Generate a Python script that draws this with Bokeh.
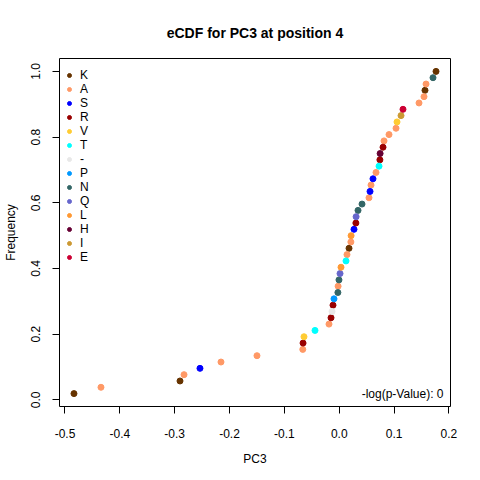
import numpy as np
from bokeh.plotting import figure
from bokeh.models import FixedTicker, PrintfTickFormatter, Label, Range1d
from bokeh.embed import file_html
from bokeh.resources import INLINE

# PC3 values (sorted) and amino-acid labels
pc3 = [-0.4836, -0.4344, -0.2903, -0.2830, -0.2539, -0.2156, -0.1500, -0.0665,
       -0.0660, -0.0643, -0.0442, -0.0187, -0.0150, -0.0132, -0.0114, -0.0096,
       -0.0025, -0.0021, -0.0005, 0.0014, 0.0032, 0.0123, 0.0141, 0.0178,
       0.0212, 0.0216, 0.0269, 0.0303, 0.0307, 0.0342, 0.0415, 0.0542,
       0.0561, 0.0579, 0.0615, 0.0670, 0.0725, 0.0741, 0.0745, 0.0798,
       0.0816, 0.0907, 0.1035, 0.1053, 0.1126, 0.1162, 0.1454, 0.1545,
       0.1563, 0.1582, 0.1709, 0.1764]
aa = ["K", "A", "K", "A", "S", "A", "A", "A", "R", "V", "T", "A", "R", "-", "R", "P",
      "N", "A", "N", "Q", "L", "T", "A", "K", "A", "L", "S", "R", "Q", "N", "N", "A",
      "S", "A", "S", "A", "T", "R", "H", "R", "A", "A", "A", "V", "I", "E", "A", "A",
      "K", "A", "N", "K"]

legend_order = ["K", "A", "S", "R", "V", "T", "-", "P", "N", "Q", "L", "H", "I", "E"]
legend_colors = ["#663300", "#FF9966", "#0000FF", "#990000", "#FFCC33", "#00FFFF",
                 "#E8E8E8", "#0099FF", "#336666", "#6666CC", "#FF9933", "#660033",
                 "#CC9933", "#CC0033"]

x_ticks = [-0.5, -0.4, -0.3, -0.2, -0.1, 0.0, 0.1, 0.2]
y_ticks = [0.0, 0.2, 0.4, 0.6, 0.8, 1.0]

title_text = "eCDF for PC3 at position 4"
pval_text = "-log(p-Value): 0"

x = np.array(pc3)
n = len(x)
freq = np.arange(1, n + 1) / n  # empirical CDF
labels = np.array(aa)

xpad = 0.04 * (x.max() - x.min())
ypad = 0.04 * (freq.max() - freq.min())
x_lo, x_hi = x.min() - xpad, x.max() + xpad

FONT = "Liberation Sans"
W, H = 480, 480
BL, BR, BT, BB = 59, 30, 58, 74
frame_h = H - BT - BB

p = figure(width=W, height=H, output_backend="svg", toolbar_location=None,
           x_range=Range1d(x_lo, x_hi),
           y_range=Range1d(freq.min() - ypad, freq.max() + ypad),
           min_border_left=BL, min_border_right=BR, min_border_top=BT,
           min_border_bottom=BB, title=title_text)

p.title.align = "center"
p.title.text_font = FONT
p.title.text_font_size = "14px"
p.title.text_font_style = "bold"
p.title.text_color = "black"
p.title.standoff = 36

p.grid.visible = False
p.outline_line_color = "black"
p.outline_line_width = 1
p.background_fill_color = "white"

for ax in (p.xaxis[0], p.yaxis[0]):
    ax.axis_line_color = None
    ax.major_tick_out = 7
    ax.major_tick_in = 0
    ax.minor_tick_line_color = None
    ax.major_tick_line_color = "black"
    ax.major_label_text_font = FONT
    ax.major_label_text_font_size = "12px"
    ax.major_label_text_color = "black"
    ax.axis_label_text_font = FONT
    ax.axis_label_text_font_size = "12px"
    ax.axis_label_text_font_style = "normal"
    ax.axis_label_text_color = "black"
    ax.formatter = PrintfTickFormatter(format="%.1f")

p.xaxis.ticker = FixedTicker(ticks=x_ticks)
p.yaxis.ticker = FixedTicker(ticks=y_ticks)
p.xaxis.axis_label = "PC3"
p.yaxis.axis_label = "Frequency"
p.xaxis.major_label_standoff = 15
p.xaxis.axis_label_standoff = 11
p.yaxis.major_label_orientation = "vertical"
p.yaxis.major_label_standoff = 12
p.yaxis.axis_label_standoff = 11

for lab, col in zip(legend_order, legend_colors):
    m = labels == lab
    p.scatter(x[m], freq[m], size=6, color=col, line_color=col, legend_label=lab)

row_h = 14
lg = p.legend[0]
lg.location = (5, frame_h - 10 - row_h * len(legend_order))
lg.margin = 0
lg.padding = 0
lg.glyph_width = 10
lg.glyph_height = row_h
lg.label_height = row_h
lg.spacing = 0
lg.label_standoff = 6
lg.label_text_font = FONT
lg.label_text_font_size = "12px"
lg.label_text_color = "black"
lg.background_fill_alpha = 0
lg.border_line_alpha = 0

p.add_layout(Label(x=x_hi, y=freq.min(), x_offset=-7, text=pval_text,
                   text_align="right", text_baseline="middle", text_font=FONT,
                   text_font_size="12px", text_color="black"))

open("out.html", "w").write(file_html(p, INLINE))
